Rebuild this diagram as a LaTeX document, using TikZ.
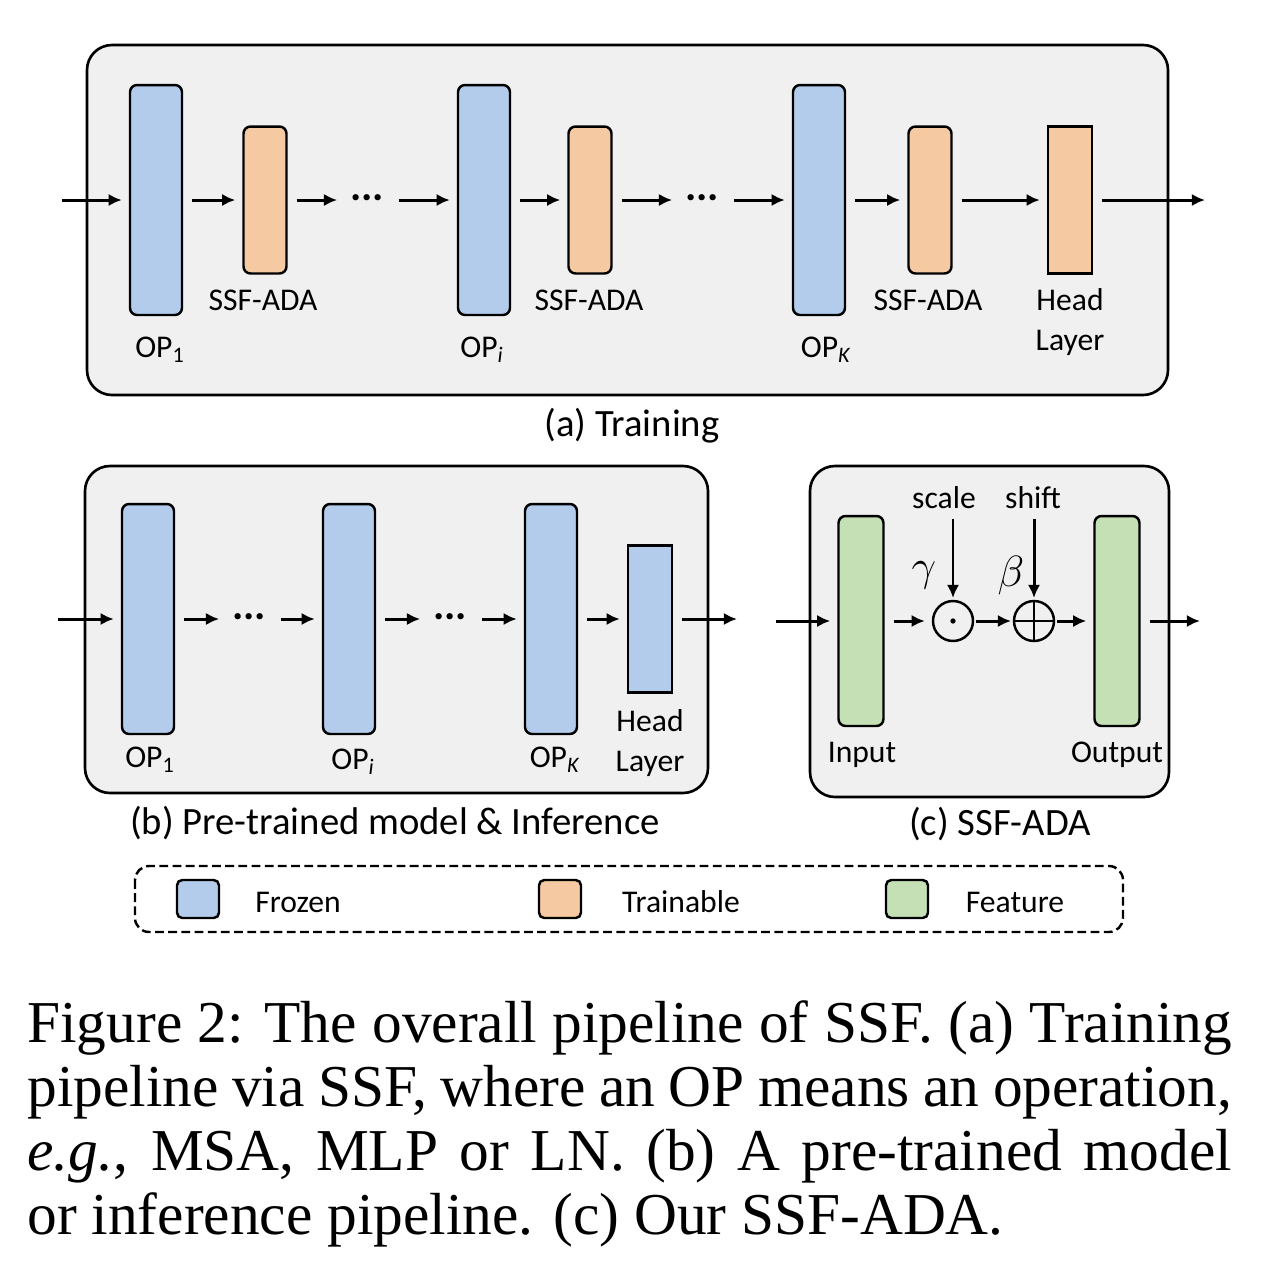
\documentclass[tikz,border=0pt]{standalone}
\usepackage{fontspec}
\setmainfont{Liberation Serif}
\newfontfamily\labelfont{Carlito}
\usetikzlibrary{arrows.meta}
\definecolor{frozen}{RGB}{180,204,236}
\definecolor{trainable}{RGB}{245,201,161}
\definecolor{feature}{RGB}{197,224,180}
\definecolor{panelbg}{RGB}{240,240,241}
\begin{document}
\begin{tikzpicture}[x=0.02cm, y=-0.02cm,
    box/.style={draw, line width=1.4pt, rounded corners=4pt, inner sep=0pt},
    op/.style={box, fill=frozen, minimum width=1.04cm, minimum height=4.6cm},
    ada/.style={box, fill=trainable, minimum width=0.86cm, minimum height=2.94cm},
    head/.style={draw, line width=1.4pt, inner sep=0pt, minimum width=0.88cm, minimum height=2.94cm},
    feat/.style={box, fill=feature, minimum width=0.9cm, minimum height=4.2cm},
    key/.style={box, rounded corners=3pt, minimum width=0.84cm, minimum height=0.76cm},
    dots/.style={minimum width=0.9cm, inner sep=0pt, font=\labelfont\bfseries\fontsize{24}{24}\selectfont},
    opsym/.style={circle, draw, line width=1.4pt, minimum size=0.8cm, inner sep=0pt},
    link/.style={-{Latex[length=7.5pt,width=7pt]}, line width=1.7pt, shorten <=5pt, shorten >=4pt},
    panel/.style={draw, line width=1.5pt, fill=panelbg, rounded corners=0.5cm},
    lbl/.style={font=\labelfont\fontsize{18}{22.7}\selectfont, align=center},
    greek/.style={font=\fontsize{24}{24}\selectfont},
    sub/.style={font=\labelfont\fontsize{22}{24}\selectfont}]
\fill[white] (0,0) rectangle (1272,1286);
\useasboundingbox (0,0) rectangle (1272,1286);

% (a) training
\draw[panel] (87,45) rectangle (1168,395);
\coordinate (ina) at (62,200);
\coordinate (outa) at (1205,200);
\node[op] (opa1) at (156,200) {};
\node[ada] (adaa1) at (265,200) {};
\node[dots] (dta1) at (367,198) {...};
\node[op] (opai) at (484,200) {};
\node[ada] (adaai) at (590,200) {};
\node[dots] (dta2) at (702,198) {...};
\node[op] (opaK) at (819,200) {};
\node[ada] (adaaK) at (930,200) {};
\node[head, fill=trainable] (heada) at (1070,200) {};
\draw[link, shorten <=0pt] (ina) -- (opa1);
\draw[link] (opa1) -- (adaa1);
\draw[link] (adaa1) -- (adaa1 -| dta1.west);
\draw[link] (opai -| dta1.east) -- (opai);
\draw[link] (opai) -- (adaai);
\draw[link] (adaai) -- (adaai -| dta2.west);
\draw[link] (opaK -| dta2.east) -- (opaK);
\draw[link] (opaK) -- (adaaK);
\draw[link] (adaaK) -- (heada);
\draw[link, shorten >=0pt] (heada) -- (outa);
\node[lbl] (la1) at (160,350) {OP\textsubscript{1}};
\node[lbl] (lai) at (482,350) {OP\textsubscript{\textit{i}}};
\node[lbl] (laK) at (826,350) {OP\textsubscript{\textit{K}}};
\node[lbl] (lada1) at (263,300) {SSF-ADA};
\node[lbl] (ladai) at (589,300) {SSF-ADA};
\node[lbl] (ladaK) at (928,300) {SSF-ADA};
\node[lbl] (lheada) at (1070,322) {Head\\Layer};
\node[sub] (capa) at (632,426) {(a) Training};

% (b) pre-trained model & inference
\draw[panel] (85,466) rectangle (708,793);
\coordinate (inb) at (58,619);
\coordinate (outb) at (737,619);
\node[op] (opb1) at (148,619) {};
\node[dots] (dtb1) at (249,617) {...};
\node[op] (opbi) at (349,619) {};
\node[dots] (dtb2) at (450,617) {...};
\node[op] (opbK) at (551,619) {};
\node[head, fill=frozen] (headb) at (650,619) {};
\draw[link, shorten <=0pt] (inb) -- (opb1);
\draw[link] (opb1) -- (opb1 -| dtb1.west);
\draw[link] (opbi -| dtb1.east) -- (opbi);
\draw[link] (opbi) -- (opbi -| dtb2.west);
\draw[link] (opbK -| dtb2.east) -- (opbK);
\draw[link] (opbK) -- (headb);
\draw[link, shorten >=0pt] (headb) -- (outb);
\node[lbl] (lb1) at (150,760) {OP\textsubscript{1}};
\node[lbl] (lbi) at (353,762) {OP\textsubscript{\textit{i}}};
\node[lbl] (lbK) at (555,760) {OP\textsubscript{\textit{K}}};
\node[lbl] (lheadb) at (650,743) {Head\\Layer};
\node[sub] (capb) at (395,823) {(b) Pre-trained model \& Inference};

% (c) SSF-ADA
\draw[panel] (810,466) rectangle (1169,797);
\coordinate (inc) at (776,621);
\coordinate (outc) at (1200,621);
\node[feat] (input) at (861,621) {};
\node[opsym] (mul) at (953,621) {};
\fill (mul.center) circle (1.5pt);
\node[opsym] (add) at (1034,621) {};
\draw[line width=1.4pt] (add.north) -- (add.south) (add.west) -- (add.east);
\node[feat] (output) at (1117,621) {};
\node[lbl] (scale) at (944,498) {scale};
\node[lbl] (shift) at (1033,498) {shift};
\node[greek] (gam) at (924,575) {$\gamma$};
\node[greek] (bet) at (1011,576) {$\beta$};
\draw[link, shorten <=0pt] (inc) -- (input);
\draw[link] (input) -- (mul);
\draw[link, shorten <=1pt, shorten >=1pt] (mul) -- (add);
\draw[link, shorten <=1pt] (add) -- (output);
\draw[link, shorten >=0pt] (output) -- (outc);
\draw[link, shorten <=2pt, shorten >=1pt] (mul |- scale.south) -- (mul);
\draw[link, shorten <=2pt, shorten >=1pt] (add |- shift.south) -- (add);
\node[lbl] (lin) at (862,755) {Input};
\node[lbl] (lout) at (1117,755) {Output};
\node[sub] (capc) at (1000,824) {(c) SSF-ADA};

% legend
\draw[line width=1.4pt, dash pattern=on 5pt off 2.5pt, rounded corners=8pt] (135,866) rectangle (1123,932);
\node[key, fill=frozen] (kfro) at (198,899) {};
\node[key, fill=trainable] (ktra) at (560,899) {};
\node[key, fill=feature] (kfea) at (907,899) {};
\node[lbl] (lfro) at (298,902) {Frozen};
\node[lbl] (ltra) at (681,902) {Trainable};
\node[lbl] (lfea) at (1015,902) {Feature};

% caption
\node[anchor=base west, inner sep=0pt, text width=24.1cm, align=justify,
      font=\fontsize{33.8}{36.5}\selectfont] (cap) at (27,1042)
  {\hyphenpenalty=10000 Figure 2: The overall pipeline of SSF. (a) Training\linebreak
   pipeline via SSF, where an OP means an operation,\linebreak
   \textit{e.g.}, MSA, MLP or LN. (b) A pre-trained model\linebreak
   or inference pipeline. (c) Our SSF-ADA.};
\end{tikzpicture}
\end{document}
